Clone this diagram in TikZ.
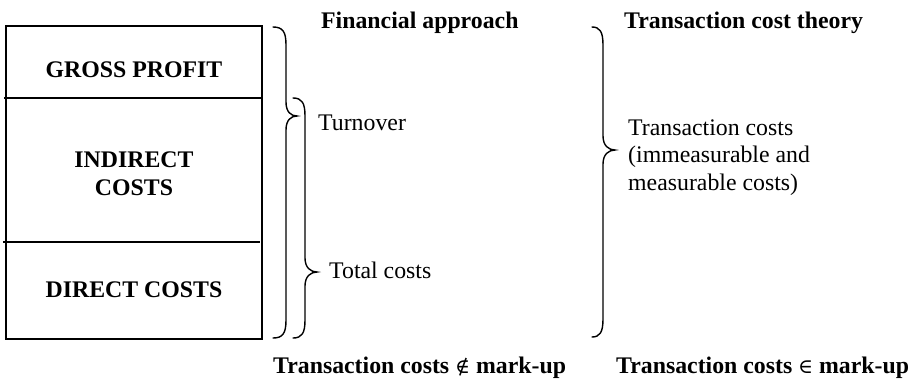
\documentclass[tikz,border=0pt]{standalone}
\usepackage{fontspec}
\setmainfont{Liberation Serif}
\newfontfamily\symf[Scale=0.85]{DejaVu Serif}
\newcommand\curlybr[6]{\draw[bracestyle] (#1,#4) .. controls ({#2-3},#4) and (#2,{#4+5}) .. (#2,{#4+18}) -- (#2,{#5-14}) .. controls (#2,{#5-4}) and ({#3-6},#5) .. (#3,#5) .. controls ({#3-6},#5) and (#2,{#5+4}) .. (#2,{#5+14}) -- (#2,{#6-18}) .. controls (#2,{#6-5}) and ({#2-3},#6) .. (#1,#6);}
\tikzset{
  bracestyle/.style={line width=1.4pt, line cap=round},
  txt/.style={inner sep=0pt, font=\fontsize{23.8}{27.5}\selectfont},
  btxt/.style={txt, font=\fontsize{23.8}{28}\selectfont\bfseries},
}
\begin{document}
\begin{tikzpicture}[x=1pt,y=-1pt]
\useasboundingbox (0,0) rectangle (917,384);
% box
\draw[line width=2.2pt] (6,26) rectangle (262,339);
\draw[line width=1.3pt] (4,98) -- (262,98);
\draw[line width=1.8pt] (3,242) -- (260,242);
\node[btxt, anchor=base] (gp) at (134,77) {GROSS PROFIT};
\node[btxt, anchor=base, align=center] (ic) at (134,195) {INDIRECT\\COSTS};
\node[btxt, anchor=base] (dc) at (134,297) {DIRECT COSTS};
% braces
\curlybr{273}{286}{297}{27}{116}{338}
\curlybr{293}{305}{317}{98}{272}{338}
\curlybr{592}{603}{615}{27}{150}{337}
% labels
\node[btxt, anchor=base west] (fa) at (321,28) {Financial approach};
\node[btxt, anchor=base west] (tct) at (624,28) {Transaction cost theory};
\node[txt, anchor=base west] (to) at (318,130) {Turnover};
\node[txt, anchor=base west] (tc) at (329,278) {Total costs};
\node[txt, anchor=base west, align=left] (trc) at (628,190) {Transaction costs\\(immeasurable and\\measurable costs)};
\node[btxt, anchor=base west] (b1) at (273,373) {Transaction costs {\symf\mdseries ∉} mark-up};
\node[btxt, anchor=base west] (b2) at (616,373) {Transaction costs {\symf\mdseries ∈} mark-up};
\end{tikzpicture}
\end{document}
